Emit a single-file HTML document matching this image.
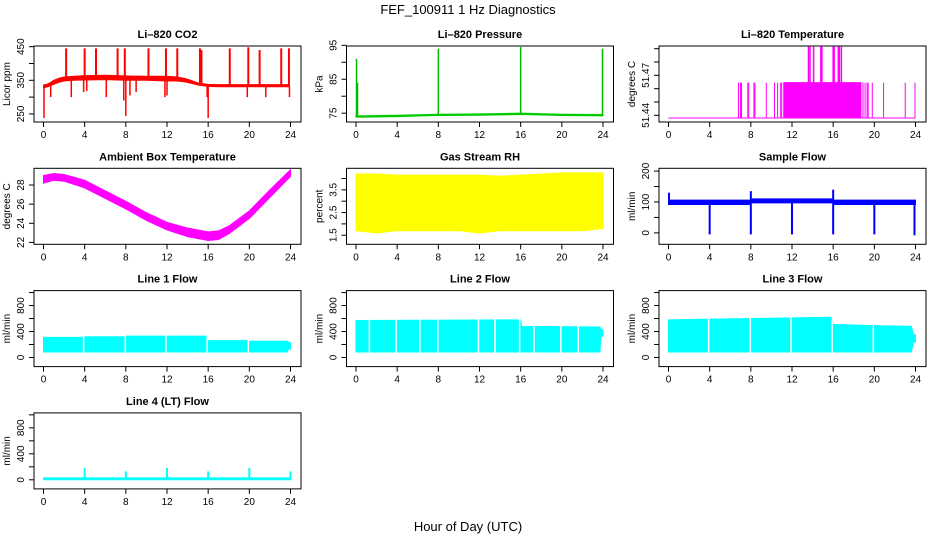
<!DOCTYPE html>
<html><head><meta charset="utf-8"><style>
body{margin:0;background:#fff;}
svg text{font-family:"Liberation Sans",sans-serif;}
</style></head><body>
<svg id="chart" width="936" height="540" viewBox="0 0 936 540" xmlns="http://www.w3.org/2000/svg">
<rect width="936" height="540" fill="#fff"/>
<text x="468" y="14" font-size="13" text-anchor="middle">FEF_100911  1 Hz Diagnostics</text>
<text x="468" y="531" font-size="13" text-anchor="middle">Hour of Day (UTC)</text>
</svg>
<script>
// ---- data ----
const xTicks = [0,4,8,12,16,20,24];
// CO2
const co2Hours = [0,0.3,0.6,1,1.5,2,3,4,6,8,10,12,13,13.8,14.5,15,16,17,18,20,22,23.9];
const co2Lo    = [328,330,333,338,344,348,350,351,352,350,350,348,348,345,340,336,332,331,331,331,331,331];
const co2Hi    = [336,338,342,350,356,360,362,364,365,363,362,362,360,355,348,342,338,337,337,337,337,337];
const co2SpikeHours = [2.2,4.0,5.1,7.2,7.9,10.2,11.9,13.0,15.2,15.35,18.1,19.9,21.0,23.1,23.85];
const co2SpikeVals  = [445,445,445,445,445,445,445,445,445,440,445,448,440,445,445];
const co2DipHours = [0.05,0.7,2.7,3.9,4.2,6.1,7.8,8.0,8.4,9.0,11.8,12.0,15.9,16.0,19.8,21.6,23.9];
const co2DipVals  = [238,300,300,315,318,300,290,244,305,315,300,305,300,238,300,300,300];
// Pressure
const presHours = [0,4,8,12,16,20,24];
const presVals  = [74.0,74.2,74.5,74.6,74.8,74.5,74.4];
const presSpikeHours = [0.05,0.15,8.0,16.0,23.95];
const presSpikeVals  = [91,84,94,94.5,94];
// Li-820 temperature
const ltBase = 51.438, ltMid = 51.4645, ltTop = 51.4915;
const ltMidHours = [6.8,7.0,7.1,7.7,7.8,8.3,8.4,9.5,10.3,10.6,10.9,11.0,18.9,19.1,19.3,19.4,19.8,20.9,23.0,23.95];
const ltDenseStart = 11.2, ltDenseEnd = 18.7;
const ltTopHours = [13.6,13.75,14.1,14.8,14.9,16.0,16.1,16.5,16.6,16.8];
// Ambient box temperature
const ambHours = [0,1,2,4,6,8,10,12,14,16,17,18,20,22,24];
const ambLo    = [28.2,28.5,28.4,27.7,26.6,25.5,24.3,23.3,22.6,22.2,22.3,22.9,24.5,26.7,28.9];
const ambHi    = [29.0,29.2,29.1,28.5,27.4,26.3,25.1,24.1,23.5,23.1,23.2,23.7,25.3,27.5,29.6];
// Gas stream RH
const rhHours = [0,2,4,6,8,10,12,14,16,18,20,22,24];
const rhHi    = [4.2,4.2,4.15,4.15,4.15,4.15,4.15,4.1,4.15,4.2,4.25,4.25,4.25];
const rhLo    = [1.7,1.6,1.7,1.7,1.7,1.7,1.6,1.7,1.7,1.7,1.7,1.7,1.8];
// Sample flow
const sfHours = [0,8,8,16,16,24];
const sfLo = [92,92,97,97,92,92];
const sfHi = [106,106,110,110,106,106];
const sfSpikeHours = [0.05,8.0,16.0,4.0,8.0,12.0,16.0,20.0,23.9];
const sfSpikeVals  = [130,135,140,-5,-5,-5,-5,-5,-8];
// Line flows
const l1Hours = [0,3.8,4,7.9,8,11.8,12,15.8,16,19.8,20,23.7,23.8,24];
const l1Hi    = [310,310,320,320,330,330,330,330,260,260,250,250,230,230];
const l1Lo    = [85,85,85,85,85,85,85,85,85,85,85,85,130,130];
const l1GapHours = [3.9,7.95,11.9,15.9,19.9];
const l2Hours = [0,16,16.1,23.7,23.8,24];
const l2Hi    = [570,580,480,470,440,420];
const l2Lo    = [85,85,85,85,320,330];
const l2GapHours = [1.3,3.9,6.2,7.95,11.9,13.5,15.9,17.3,19.9,21.6];
const l3Hours = [0,4,8,12,15.8,16,20,23.6,23.8,24];
const l3Hi    = [580,590,600,610,620,510,490,480,350,350];
const l3Lo    = [85,85,85,85,85,85,85,85,240,240];
const l3GapHours = [3.9,7.95,11.9,15.9,19.9];
const l4Base = [0,30];
const l4SpikeHours = [4,8,12,16,20,24];
const l4SpikeVals  = [180,130,180,130,180,130];

// ---- layout ----
const NS = "http://www.w3.org/2000/svg";
const svg = document.getElementById('chart');
const W = 267, H = 76;
function mk(tag, attrs, parent){const e=document.createElementNS(NS,tag);for(const k in attrs)e.setAttribute(k,attrs[k]);(parent||svg).appendChild(e);return e;}

function panel(col,row,name,title,ylab,ymin,ymax,ticks,labels){
  const L = 34 + col*312.5, T = 46 + row*122.3;
  const g = mk('g',{});
  
  
  const xs = h => L + 9.5 + h/24*247;
  const ys = v => T + H - (v-ymin)/(ymax-ymin)*H;
  const p = {L,T,g,xs,ys};
  const t = mk('text',{x:L+W/2,y:T-8,'font-size':11,'font-weight':'bold','text-anchor':'middle'},g);
  t.textContent = title;
  
  
  const yl = mk('text',{x:0,y:0,'font-size':10,'text-anchor':'middle',transform:`translate(${L-24},${T+H/2}) rotate(-90)`},g);
  yl.textContent = ylab;
  
  
  ticks.forEach(v=>{
    mk('line',{x1:L-5,x2:L,y1:ys(v),y2:ys(v),stroke:'#000','stroke-width':1},g);
  });
  labels.forEach(v=>{
    const tl = mk('text',{x:0,y:0,'font-size':10,'text-anchor':'middle',transform:`translate(${L-10},${ys(v)}) rotate(-90)`},g);
    tl.textContent = String(v);
    
    
  });
  xTicks.forEach(h=>{
    mk('line',{x1:xs(h),x2:xs(h),y1:T+H,y2:T+H+5,stroke:'#000','stroke-width':1},g);
    const xl = mk('text',{x:xs(h),y:T+H+16,'font-size':10,'text-anchor':'middle'},g);
    xl.textContent = String(h);
    
    
  });
  p.data = mk('g',{},g);
  p.box = ()=>mk('rect',{x:L,y:T,width:W,height:H,fill:'none',stroke:'#000','stroke-width':1},g);
  return p;
}
function band(p,hours,lo,hi,color,name){
  let pts = hours.map((h,i)=>p.xs(h)+','+p.ys(hi[i]));
  for(let i=hours.length-1;i>=0;i--) pts.push(p.xs(hours[i])+','+p.ys(lo[i]));
  const e = mk('polygon',{points:pts.join(' '),fill:color,stroke:color,'stroke-width':1},p.data);
  
  
}
function spikes(p,hours,base,vals,color,name,w){
  hours.forEach((h,i)=>{
    const b = Array.isArray(base)?base[i]:base;
    const e = mk('line',{x1:p.xs(h),x2:p.xs(h),y1:p.ys(b),y2:p.ys(vals[i]),stroke:color,'stroke-width':w||1.5},p.data);
    
    
  });
}
function interp(hours,vals,h){for(let i=1;i<hours.length;i++){if(h<=hours[i]){const f=(h-hours[i-1])/(hours[i]-hours[i-1]||1);return vals[i-1]+f*(vals[i]-vals[i-1]);}}return vals[vals.length-1];}
function gaps(p,gh,hours,lo,hi,name){
  spikes(p,gh,gh.map(h=>interp(hours,lo,h)-20),gh.map(h=>interp(hours,hi,h)+20),'#ffffff',name,1.5);
}

// CO2
let p = panel(0,0,'co2','Li\u2013820 CO2','Licor ppm',226,452,[250,300,350,400,450],[250,350,450]);
band(p,co2Hours,co2Lo,co2Hi,'#ff0000','co2-series');
spikes(p,co2SpikeHours,co2SpikeHours.map(h=>interp(co2Hours,co2Hi,h)),co2SpikeVals,'#ff0000','co2-spike',2);
spikes(p,co2DipHours,co2DipHours.map(h=>interp(co2Hours,co2Lo,h)),co2DipVals,'#ff0000','co2-dip',1.5);
p.box();

// Pressure
p = panel(1,0,'pressure','Li\u2013820 Pressure','kPa',72.4,94.8,[75,80,85,90,95],[75,85,95]);
band(p,presHours,presVals.map(v=>v-0.2),presVals.map(v=>v+0.2),'#00cc00','pressure-series');
spikes(p,presSpikeHours,presSpikeHours.map(h=>interp(presHours,presVals,h)),presSpikeVals,'#00bb00','pressure-spike',1.5);
p.box();

// Li-820 temperature
p = panel(2,0,'li820-temp','Li\u2013820 Temperature','degrees C',51.435,51.492,[51.44,51.45,51.46,51.47,51.48,51.49],[51.44,51.47]);
band(p,[0,24],[ltBase,ltBase],[ltBase,ltBase],'#ff00ff','li820-temp-baseline');
band(p,[ltDenseStart,ltDenseEnd],[ltBase,ltBase],[ltMid,ltMid],'#ff00ff','li820-temp-dense');
spikes(p,ltMidHours,ltBase,ltMidHours.map(()=>ltMid),'#ff00ff','li820-temp-spike',1);
spikes(p,ltTopHours,ltBase,ltTopHours.map(()=>ltTop),'#ff00ff','li820-temp-top-spike',1.5);
p.box();

// Ambient
p = panel(0,1,'ambient-temp','Ambient Box Temperature','degrees C',21.8,29.75,[22,24,26,28],[22,24,26,28]);
band(p,ambHours,ambLo,ambHi,'#ff00ff','ambient-temp-series');
p.box();

// RH
p = panel(1,1,'rh','Gas Stream RH','percent',1.1,4.45,[1.5,2,2.5,3,3.5,4],[1.5,2.5,3.5]);
band(p,rhHours,rhLo,rhHi,'#ffff00','rh-series');
p.box();

// Sample flow
p = panel(2,1,'sample-flow','Sample Flow','ml/min',-37,209,[0,50,100,150,200],[0,100,200]);
band(p,sfHours,sfLo,sfHi,'#0000ff','sample-flow-series');
spikes(p,sfSpikeHours,100,sfSpikeVals,'#0000ff','sample-flow-spike',2);
p.box();

// Line flows
const fT=[0,200,400,600,800,1000], fL=[0,400,800];
p = panel(0,2,'line1-flow','Line 1 Flow','ml/min',-140,1030,fT,fL);
band(p,l1Hours,l1Lo,l1Hi,'#00ffff','line1-flow-series');
gaps(p,l1GapHours,l1Hours,l1Lo,l1Hi,'line1-flow-gap');
p.box();
p = panel(1,2,'line2-flow','Line 2 Flow','ml/min',-140,1030,fT,fL);
band(p,l2Hours,l2Lo,l2Hi,'#00ffff','line2-flow-series');
gaps(p,l2GapHours,l2Hours,l2Lo,l2Hi,'line2-flow-gap');
p.box();
p = panel(2,2,'line3-flow','Line 3 Flow','ml/min',-140,1030,fT,fL);
band(p,l3Hours,l3Lo,l3Hi,'#00ffff','line3-flow-series');
gaps(p,l3GapHours,l3Hours,l3Lo,l3Hi,'line3-flow-gap');
p.box();
p = panel(0,3,'line4-flow','Line 4 (LT) Flow','ml/min',-140,1030,fT,fL);
band(p,[0,24],[l4Base[0],l4Base[0]],[l4Base[1],l4Base[1]],'#00ffff','line4-flow-series');
spikes(p,l4SpikeHours,l4Base[1],l4SpikeVals,'#00ffff','line4-flow-spike',2);
p.box();
</script>
</body></html>
